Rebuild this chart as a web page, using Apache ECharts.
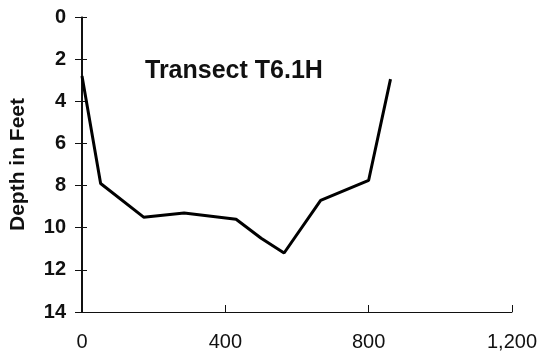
<!DOCTYPE html>
<html>
<head>
<meta charset="utf-8">
<script src="https://cdn.jsdelivr.net/npm/echarts@6/dist/echarts.min.js"></script>
<style>html,body{margin:0;padding:0;background:#fff}#c{width:540px;height:360px}</style>
</head>
<body>
<div id="c"></div>
<script>
var titleText = 'Transect T6.1H';
var yAxisName = 'Depth in Feet';
var distance = [0, 52, 172, 285, 430, 500, 564, 666, 800, 861];
var depth = [2.8, 7.9, 9.5, 9.3, 9.6, 10.5, 11.2, 8.7, 7.75, 2.95];
var xTicks = [0, 400, 800, 1200];
var yTicks = [0, 2, 4, 6, 8, 10, 12, 14];

var chart = echarts.init(document.getElementById('c'), null, {renderer: 'canvas'});
var fontFam = 'Liberation Sans, Arial, sans-serif';
var gridBox = {left: 81, right: 28, top: 17, bottom: 48, containLabel: false};
chart.setOption({
  animation: false,
  backgroundColor: '#ffffff',
  title: {
    text: titleText,
    left: 140, top: 54,
    textStyle: {fontFamily: fontFam, fontSize: 25, fontWeight: 'bold', color: '#111'}
  },
  grid: [Object.assign({}, gridBox), Object.assign({}, gridBox)],
  xAxis: [{
    type: 'value', gridIndex: 0, position: 'bottom', min: xTicks[0], max: xTicks[xTicks.length - 1], interval: 400,
    axisLine: {onZero: false, lineStyle: {color: '#111', width: 1}},
    axisTick: {show: true, inside: true, length: 7, lineStyle: {color: '#111'}},
    axisLabel: {
      margin: 20, color: '#111', fontFamily: fontFam, fontSize: 20,
      formatter: function (v) { return v.toLocaleString('en-US'); }
    },
    splitLine: {show: false}
  }, {
    type: 'value', gridIndex: 1, show: false, min: xTicks[0], max: xTicks[xTicks.length - 1], interval: 400
  }],
  yAxis: [{
    type: 'value', gridIndex: 0, inverse: true, min: yTicks[0], max: yTicks[yTicks.length - 1], interval: 2,
    position: 'left',
    name: yAxisName, nameLocation: 'middle', nameRotate: 90, nameGap: 53,
    nameTextStyle: {fontFamily: fontFam, fontSize: 21, fontWeight: 'bold', color: '#111'},
    axisLine: {show: true, onZero: false, lineStyle: {color: '#111', width: 1}},
    axisTick: {show: true, inside: false, length: 7, lineStyle: {color: '#111'}},
    axisLabel: {margin: 16, color: '#111', fontFamily: fontFam, fontSize: 20, fontWeight: 'bold'},
    splitLine: {show: false}
  }, {
    type: 'value', gridIndex: 1, inverse: true, min: yTicks[0], max: yTicks[yTicks.length - 1], interval: 2,
    position: 'left',
    axisLine: {show: true, onZero: false, lineStyle: {color: '#111', width: 1}},
    axisTick: {show: true, inside: true, length: 6, lineStyle: {color: '#111', width: 1}},
    axisLabel: {show: false},
    splitLine: {show: false}
  }],
  series: [{
    type: 'line',
    xAxisIndex: 0,
    yAxisIndex: 0,
    data: distance.map(function (d, i) { return [d, depth[i]]; }),
    symbol: 'none',
    lineStyle: {color: '#000', width: 3},
    clip: false
  }]
});
</script>
</body>
</html>
